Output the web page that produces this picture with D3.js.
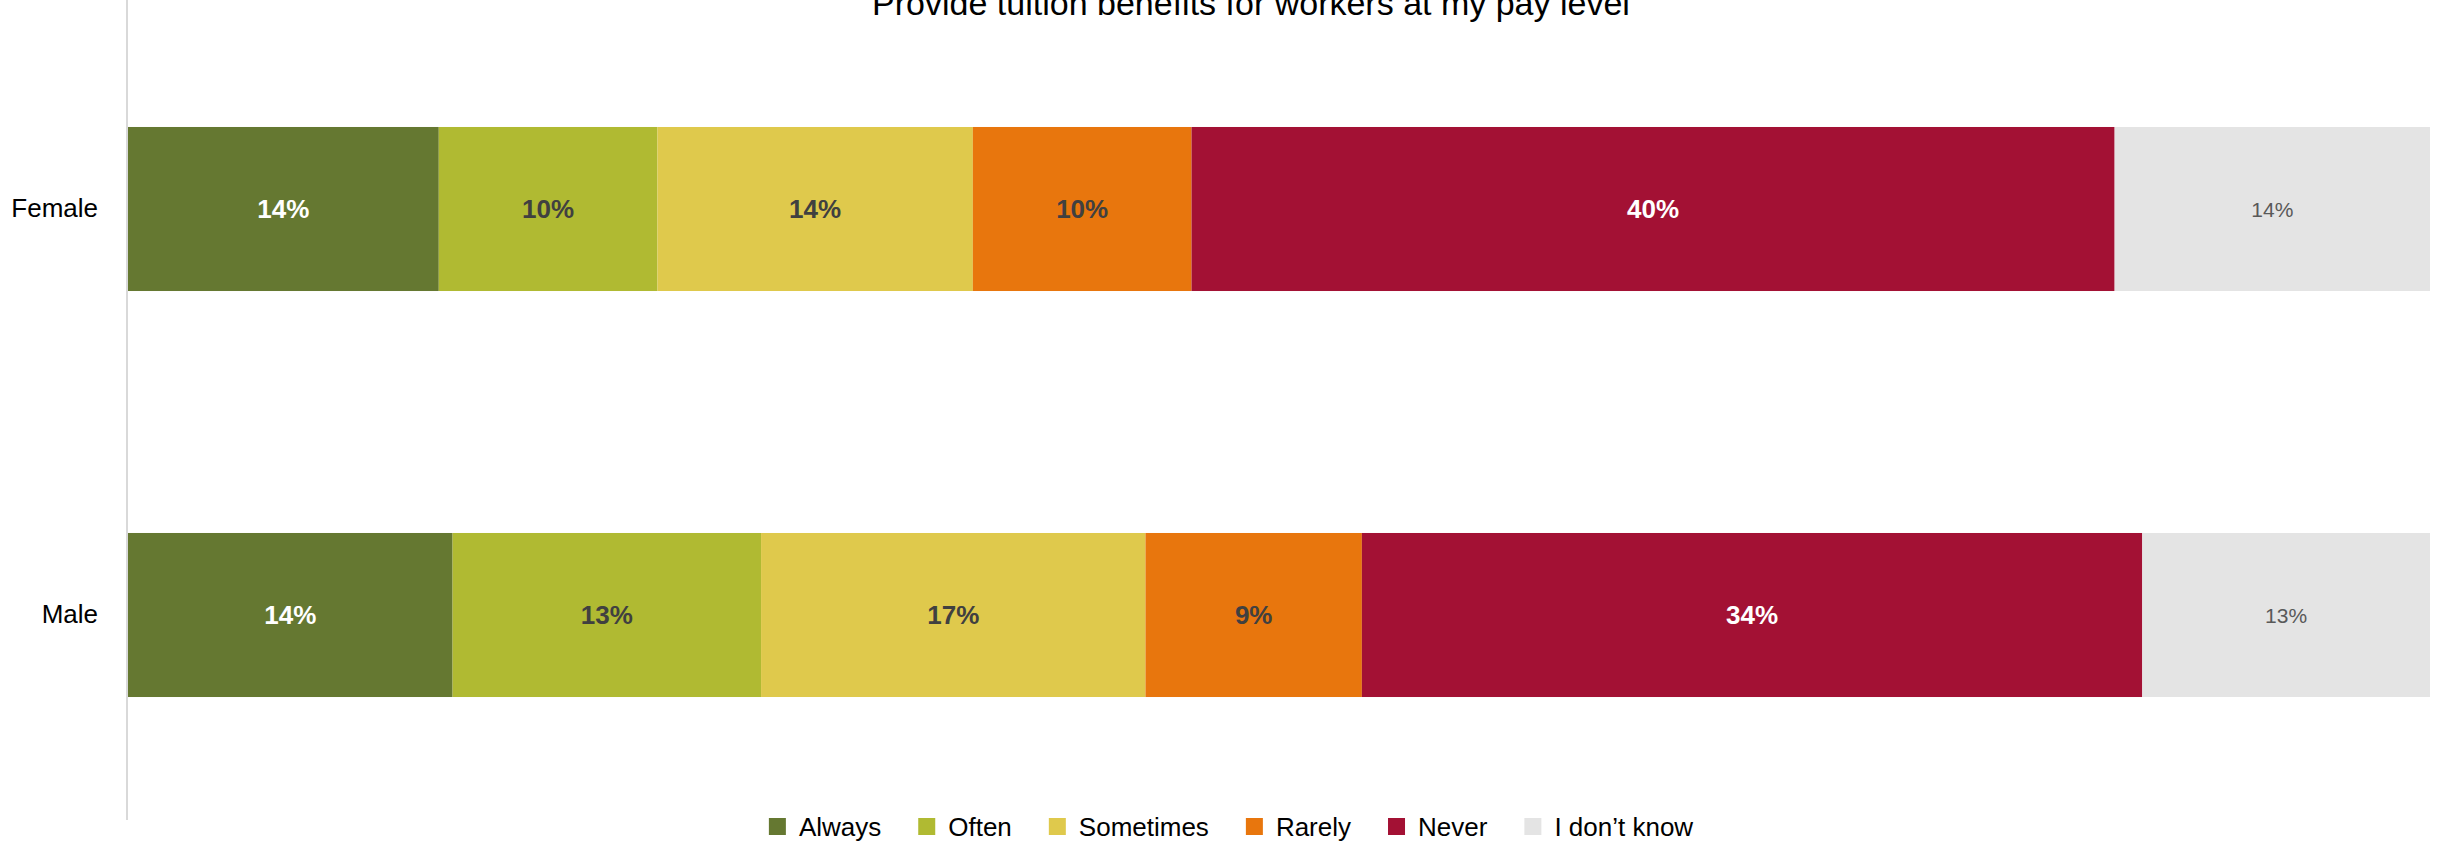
<!DOCTYPE html>
<html>
<head>
<meta charset="utf-8">
<script src="https://cdn.jsdelivr.net/npm/d3@7"></script>
<style>
  html, body { margin: 0; padding: 0; background: #fff; }
  svg { display: block; }
  text { font-family: "Liberation Sans", Arial, sans-serif; }
</style>
</head>
<body>
<svg id="chart" width="2450" height="843"></svg>
<script>
const title = "Provide tuition benefits for workers at my pay level";
const categories = ["Female", "Male"];
const seriesNames = ["Always", "Often", "Sometimes", "Rarely", "Never", "I don\u2019t know"];
const seriesColors = ["#657831", "#B0BA32", "#DFC94C", "#E8760D", "#A31134", "#E4E4E4"];
// share of responses (%) per category, in series order
const femaleValues = [13.5, 9.5, 13.7, 9.5, 40.1, 13.7];
const maleValues   = [14.1, 13.4, 16.7, 9.4, 33.9, 12.5];
const labelFemale  = ["14%", "10%", "14%", "10%", "40%", "14%"];
const labelMale    = ["14%", "13%", "17%", "9%", "34%", "13%"];

const valuesByCat = { "Female": femaleValues, "Male": maleValues };
const labelsByCat = { "Female": labelFemale, "Male": labelMale };
const labelColors = ["#ffffff", "#404040", "#404040", "#404040", "#ffffff", "#595959"];

const svg = d3.select("#chart");

const x = d3.scaleLinear().domain([0, 100]).range([128, 2430]);
const y = d3.scaleBand().domain(categories).range([6, 818])
  .paddingInner(0.596).paddingOuter(0.298);

// build stacked rows
const rows = categories.map(c => {
  let acc = 0;
  return valuesByCat[c].map((v, i) => {
    const d = { cat: c, i, x0: acc, x1: acc + v, label: labelsByCat[c][i] };
    acc += v;
    return d;
  });
}).flat();

// bars
svg.append("g").selectAll("rect").data(rows).join("rect")
  .attr("x", d => x(d.x0))
  .attr("y", d => y(d.cat))
  .attr("width", d => x(d.x1) - x(d.x0))
  .attr("height", y.bandwidth())
  .attr("fill", d => seriesColors[d.i]);

// data labels
svg.append("g").selectAll("text").data(rows).join("text")
  .attr("x", d => (x(d.x0) + x(d.x1)) / 2)
  .attr("y", d => y(d.cat) + y.bandwidth() / 2)
  .attr("text-anchor", "middle")
  .attr("dominant-baseline", "central")
  .attr("font-size", d => d.i === 5 ? 21 : 26)
  .attr("font-weight", d => d.i === 5 ? "normal" : "bold")
  .attr("fill", d => labelColors[d.i])
  .text(d => d.label);

// y axis
const yAxis = d3.axisLeft(y).tickSize(0).tickPadding(29);
const gy = svg.append("g").attr("transform", "translate(127,0)").call(yAxis);
gy.select(".domain").remove();
gy.selectAll("text").attr("font-size", 26).attr("fill", "#000")
  .style("font-family", "'Liberation Sans', Arial, sans-serif");
svg.append("line").attr("x1", 127).attr("x2", 127).attr("y1", 0).attr("y2", 820)
  .attr("stroke", "#D9D9D9").attr("stroke-width", 2);

// title (partially cut off at top, as in the original)
svg.append("text").attr("x", 1251).attr("y", 15)
  .attr("text-anchor", "middle").attr("font-size", 34).attr("fill", "#000")
  .text(title);

// legend
const lg = svg.append("g");
const items = lg.selectAll("g").data(seriesNames).join("g");
items.append("rect").attr("width", 17).attr("height", 17).attr("y", 818)
  .attr("fill", (d, i) => seriesColors[i]);
items.append("text").attr("y", 826.5).attr("dominant-baseline", "central")
  .attr("font-size", 26).attr("fill", "#000").text(d => d);
let widths = [];
items.select("text").each(function() { widths.push(this.getComputedTextLength()); });
const total = d3.sum(widths) + seriesNames.length * (17 + 13) + (seriesNames.length - 1) * 37;
let cx = 1231 - total / 2;
items.each(function(d, i) {
  const g = d3.select(this);
  g.select("rect").attr("x", cx);
  g.select("text").attr("x", cx + 30);
  cx += 30 + widths[i] + 37;
});
</script>
</body>
</html>
